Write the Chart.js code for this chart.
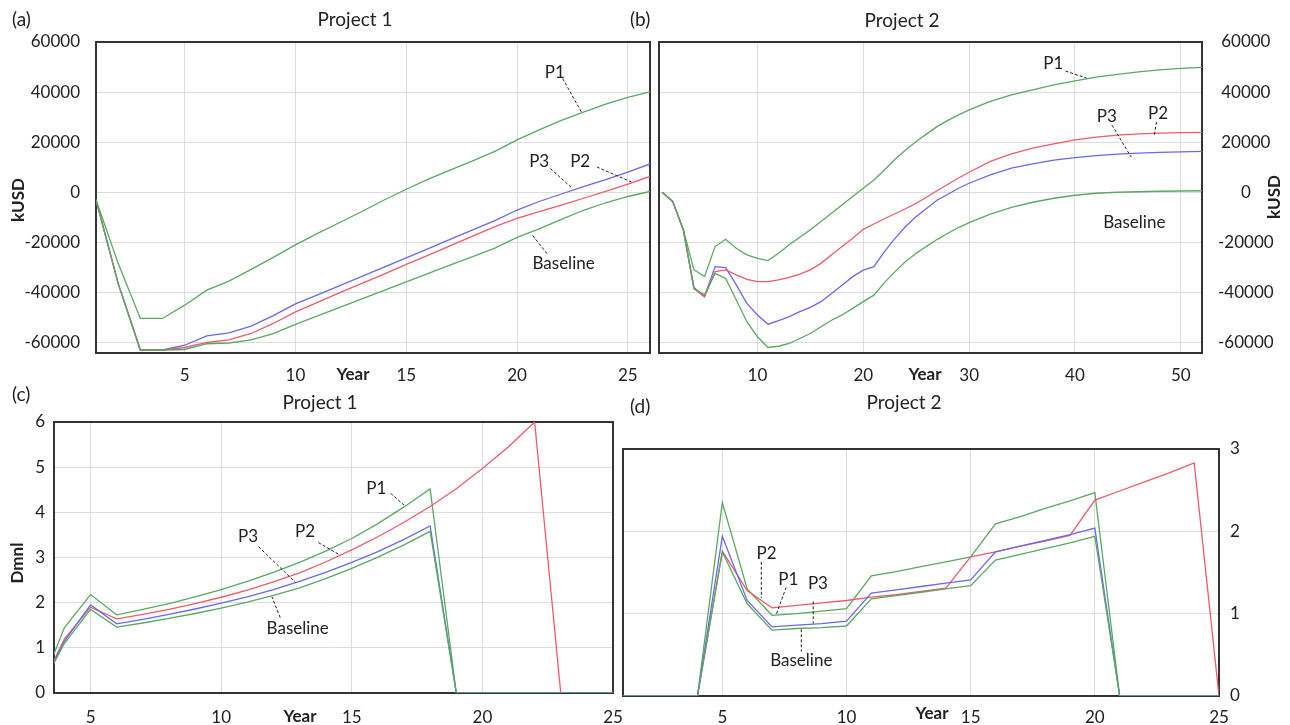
<!DOCTYPE html>
<html>
<head>
<meta charset="utf-8">
<script src="https://cdn.jsdelivr.net/npm/chart.js@4.4.1/dist/chart.umd.min.js"></script>
<style>
  body { margin: 0; background: #ffffff; }
  #quadro { position: relative; width: 1290px; height: 725px; }
  #quadro canvas { position: absolute; left: 0; top: 0; }
</style>
</head>
<body>
<div id="quadro">
  <canvas id="graficoA" width="1290" height="725"></canvas>
  <canvas id="graficoB" width="1290" height="725"></canvas>
  <canvas id="graficoC" width="1290" height="725"></canvas>
  <canvas id="graficoD" width="1290" height="725"></canvas>
</div>
<script>
// 1. DADOS

// (a) Project 1 - kUSD
const anosA = [1, 2, 3, 4, 5, 6, 7, 8, 9, 10, 11, 12, 13, 14, 15, 16, 17, 18, 19, 20, 21, 22, 23, 24, 25, 26];
const p1A = [-3000, -28400, -50400, -50400, -45100, -39100, -35500, -30800, -26000, -21000, -16400, -12100, -7700, -3100, 1200, 5200, 8900, 12500, 16300, 20900, 24900, 28700, 32000, 35200, 37900, 40100];
const p2A = [-3000, -36400, -63000, -63000, -62000, -60000, -59000, -56400, -52400, -47800, -44000, -40100, -36400, -32700, -28800, -25100, -21300, -17500, -13700, -10400, -7700, -5100, -2400, 300, 3200, 6300];
const p3A = [-3000, -36400, -63000, -63000, -61100, -57400, -56200, -53500, -49300, -44600, -41000, -37300, -33600, -29900, -26200, -22500, -18700, -15000, -11300, -7100, -3700, -700, 2200, 5000, 8000, 11300];
const baseA = [-3000, -36400, -63000, -63000, -62800, -60500, -60200, -59000, -56500, -52800, -49400, -46000, -42600, -39200, -35800, -32400, -29000, -25700, -22300, -18000, -14600, -10800, -7200, -4200, -1700, 300];
const ticksXA = [5, 10, 15, 20, 25];
const ticksKusd = [-60000, -40000, -20000, 0, 20000, 40000, 60000];

// (b) Project 2 - kUSD
const anosB = [1, 2, 3, 4, 5, 6, 7, 8, 9, 10, 11, 12, 13, 14, 15, 16, 17, 18, 19, 20, 21, 22, 23, 24, 25, 26, 27, 28, 29, 30, 32, 34, 36, 38, 40, 42, 44, 46, 48, 50, 52];
const p1B = [0, -3700, -15000, -31000, -33700, -21700, -18800, -22400, -25000, -26400, -27300, -24400, -21000, -18000, -15000, -11700, -8400, -5000, -1700, 1600, 4900, 8900, 13200, 16900, 20300, 23300, 26300, 28700, 30900, 32900, 36300, 38900, 40900, 42900, 44500, 46000, 47100, 48100, 48900, 49500, 49900];
const p2B = [0, -3700, -15000, -38500, -41800, -31700, -31000, -33000, -34800, -35700, -35700, -35000, -34000, -32700, -31000, -28400, -25000, -21700, -18400, -14800, -12700, -10600, -8600, -6600, -4400, -1900, 700, 3200, 5700, 8000, 12300, 15300, 17600, 19300, 20900, 22000, 22800, 23300, 23600, 23800, 23900];
const p3B = [0, -3700, -15000, -38000, -41600, -29700, -30100, -37000, -44400, -49000, -52700, -51300, -49700, -47700, -46000, -43700, -40400, -37100, -33700, -31100, -29700, -23700, -18400, -13700, -9700, -6400, -3100, -800, 1600, 3600, 6900, 9600, 11300, 12800, 13800, 14600, 15200, 15600, 15900, 16100, 16300];
const baseB = [0, -3700, -15000, -38500, -41000, -32400, -34400, -43000, -51700, -57700, -62000, -61500, -60400, -58400, -56400, -53700, -51100, -49000, -46400, -43700, -41100, -36100, -31700, -27700, -24400, -21500, -18800, -16400, -14100, -12100, -8700, -6000, -4000, -2400, -1200, -400, 0, 200, 400, 500, 600];
const ticksXB = [10, 20, 30, 40, 50];

// (c) Project 1 - Dmnl
const anosC = [3, 4, 5, 6, 7, 8, 9, 10, 11, 12, 13, 14, 15, 16, 17, 18, 19, 20, 21, 22, 23, 24, 25];
const p1C = [0, 1.45, 2.18, 1.73, 1.85, 1.98, 2.13, 2.29, 2.47, 2.67, 2.89, 3.14, 3.42, 3.75, 4.12, 4.52, 0, 0, 0, 0, 0, 0, 0];
const p2C = [0, 1.2, 1.9, 1.64, 1.74, 1.85, 1.98, 2.12, 2.28, 2.46, 2.66, 2.9, 3.17, 3.46, 3.78, 4.13, 4.52, 4.97, 5.45, 6.0, 0, 0, 0];
const p3C = [0, 1.15, 1.95, 1.53, 1.63, 1.74, 1.86, 1.99, 2.13, 2.29, 2.47, 2.67, 2.89, 3.13, 3.4, 3.7, 0, 0, 0, 0, 0, 0, 0];
const baseC = [0, 1.1, 1.85, 1.46, 1.55, 1.65, 1.76, 1.88, 2.01, 2.16, 2.33, 2.53, 2.76, 3.01, 3.28, 3.58, 0, 0, 0, 0, 0, 0, 0];
const ticksXC = [5, 10, 15, 20, 25];
const ticksYC = [0, 1, 2, 3, 4, 5, 6];

// (d) Project 2 - Dmnl
const anosD = [1, 2, 3, 4, 5, 6, 7, 8, 9, 10, 11, 12, 13, 14, 15, 16, 17, 18, 19, 20, 21, 22, 23, 24, 25];
const p1D = [0, 0, 0, 0, 2.35, 1.3, 0.98, 1.0, 1.03, 1.06, 1.46, 1.51, 1.57, 1.63, 1.69, 2.09, 2.18, 2.28, 2.37, 2.47, 0, 0, 0, 0, 0];
const p2D = [0, 0, 0, 0, 1.76, 1.28, 1.07, 1.1, 1.13, 1.16, 1.2, 1.23, 1.27, 1.31, 1.69, 1.75, 1.82, 1.88, 1.95, 2.38, 2.49, 2.6, 2.71, 2.83, 0];
const p3D = [0, 0, 0, 0, 1.94, 1.16, 0.84, 0.86, 0.88, 0.91, 1.25, 1.29, 1.33, 1.37, 1.41, 1.75, 1.82, 1.89, 1.96, 2.04, 0, 0, 0, 0, 0];
const baseD = [0, 0, 0, 0, 1.75, 1.12, 0.8, 0.82, 0.83, 0.85, 1.18, 1.22, 1.26, 1.3, 1.34, 1.65, 1.72, 1.79, 1.86, 1.94, 0, 0, 0, 0, 0];
const ticksXD = [5, 10, 15, 20, 25];
const ticksYD = [0, 1, 2, 3];

// 2. ESTILO
const verde = '#5aa862';
const vermelho = '#ef5a6a';
const azul = '#6868ee';

Chart.defaults.font.family = 'Lato, "Open Sans", sans-serif';
Chart.defaults.color = '#222222';

// rótulos com linha tracejada (posição em coordenadas dos dados)
const notasA = [
    { texto: 'P1', x: 21.7, y: 48000, de: [22.06, 45400], ate: [22.9, 32100] },
    { texto: 'P3', x: 21.0, y: 12100, de: [21.5, 9500], ate: [22.5, 1500] },
    { texto: 'P2', x: 22.85, y: 12100, de: [23.6, 10100], ate: [25.16, 4100] },
    { texto: 'Baseline', x: 22.1, y: -28300, de: [21.35, -24500], ate: [20.7, -17200] }
];
const notasB = [
    { texto: 'P1', x: 37.95, y: 51400, de: [39.1, 48400], ate: [41.1, 45600] },
    { texto: 'P3', x: 43.0, y: 30100, de: [43.5, 26800], ate: [45.3, 14100] },
    { texto: 'P2', x: 47.85, y: 31400, de: [47.7, 28100], ate: [47.5, 22800] },
    { texto: 'Baseline', x: 45.6, y: -11900 }
];
const notasC = [
    { texto: 'P1', x: 15.94, y: 4.53, de: [16.49, 4.42], ate: [17.04, 4.14] },
    { texto: 'P2', x: 13.21, y: 3.57, de: [13.72, 3.33], ate: [14.53, 3.06] },
    { texto: 'P3', x: 11.03, y: 3.46, de: [11.43, 3.24], ate: [12.84, 2.45] },
    { texto: 'Baseline', x: 12.93, y: 1.43, de: [12.26, 1.67], ate: [11.94, 2.13] }
];
const notasD = [
    { texto: 'P2', x: 6.78, y: 1.73, de: [6.57, 1.63], ate: [6.57, 1.19] },
    { texto: 'P1', x: 7.66, y: 1.42, de: [7.57, 1.32], ate: [7.17, 0.99] },
    { texto: 'P3', x: 8.85, y: 1.37, de: [8.66, 1.15], ate: [8.66, 0.88] },
    { texto: 'Baseline', x: 8.18, y: 0.43, de: [8.18, 0.81], ate: [8.18, 0.54] }
];

// 3. PLUGIN PARA MOLDURA, TÍTULOS E RÓTULOS
function extras(conf) {
    return {
        id: 'extras',
        beforeDatasetsDraw(chart) {
            const { ctx, chartArea: a } = chart;
            ctx.save();
            ctx.strokeStyle = '#333333';
            ctx.lineWidth = 2;
            ctx.strokeRect(a.left, a.top, a.right - a.left, a.bottom - a.top);
            ctx.restore();
        },
        afterDraw(chart) {
            const ctx = chart.ctx;
            const sx = chart.scales.x;
            const sy = chart.scales.y;
            ctx.save();
            ctx.fillStyle = '#222222';
            ctx.textBaseline = 'middle';

            // textos fixos: título, letra do painel, eixos
            conf.textos.forEach(t => {
                ctx.font = t.fonte;
                ctx.textAlign = t.alinhar || 'center';
                ctx.save();
                ctx.translate(t.x, t.y);
                if (t.girar) ctx.rotate(-Math.PI / 2);
                ctx.fillText(t.texto, 0, 0);
                ctx.restore();
            });

            // rótulos das séries
            ctx.font = '17px Lato, "Open Sans", sans-serif';
            ctx.textAlign = 'center';
            conf.notas.forEach(n => {
                ctx.fillText(n.texto, sx.getPixelForValue(n.x), sy.getPixelForValue(n.y));
                if (n.de) {
                    ctx.beginPath();
                    ctx.setLineDash([3, 2]);
                    ctx.strokeStyle = '#222222';
                    ctx.lineWidth = 1;
                    ctx.moveTo(sx.getPixelForValue(n.de[0]), sy.getPixelForValue(n.de[1]));
                    ctx.lineTo(sx.getPixelForValue(n.ate[0]), sy.getPixelForValue(n.ate[1]));
                    ctx.stroke();
                    ctx.setLineDash([]);
                }
            });
            ctx.restore();
        }
    };
}

// 4. CONSTRUÇÃO DE CADA PAINEL
function criarGrafico(idCanvas, conf) {
    const canvas = document.getElementById(idCanvas).getContext('2d');
    return new Chart(canvas, {
        type: 'line',
        data: {
            datasets: conf.series.map(s => ({
                data: conf.anos.map((a, i) => ({ x: a, y: s.valores[i] })),
                borderColor: s.cor,
                borderWidth: 1.3,
                pointRadius: 0,
                tension: 0,
                fill: false
            }))
        },
        options: {
            responsive: false,
            animation: false,
            devicePixelRatio: 1,
            layout: { padding: conf.margem },
            plugins: {
                legend: { display: false },
                tooltip: { enabled: false }
            },
            scales: {
                x: {
                    type: 'linear',
                    min: conf.xMin,
                    max: conf.xMax,
                    afterBuildTicks: s => { s.ticks = conf.ticksX.map(v => ({ value: v })); },
                    afterFit: s => { s.height = conf.xAltura; },
                    grid: { color: '#dcdcdc', drawTicks: false },
                    border: { display: false },
                    ticks: {
                        padding: conf.xPad,
                        font: { size: 17 },
                        maxRotation: 0,
                        autoSkip: false,
                        callback: v => String(v)
                    }
                },
                y: {
                    type: 'linear',
                    position: conf.yLado,
                    min: conf.yMin,
                    max: conf.yMax,
                    afterBuildTicks: s => { s.ticks = conf.ticksY.map(v => ({ value: v })); },
                    afterFit: s => { s.width = conf.yLargura; },
                    grid: { color: '#dcdcdc', drawTicks: false },
                    border: { display: false },
                    ticks: {
                        padding: conf.yPad,
                        crossAlign: conf.yAlinhar || 'near',
                        font: { size: 17 },
                        autoSkip: false,
                        callback: v => String(v)
                    }
                }
            }
        },
        plugins: [extras(conf)]
    });
}

const fonteTitulo = '19px Lato, "Open Sans", sans-serif';
const fonteEixo = 'bold 17px Lato, "Open Sans", sans-serif';

criarGrafico('graficoA', {
    anos: anosA,
    series: [
        { valores: baseA, cor: verde },
        { valores: p2A, cor: vermelho },
        { valores: p3A, cor: azul },
        { valores: p1A, cor: verde }
    ],
    xMin: 1, xMax: 26, ticksX: ticksXA,
    yMin: -64200, yMax: 60000, ticksY: ticksKusd,
    margem: { left: 0, top: 42, right: 640, bottom: 342 },
    xAltura: 30, xPad: 12,
    yLado: 'left', yLargura: 96, yPad: 16,
    notas: notasA,
    textos: [
        { texto: '(a)', x: 12, y: 20, fonte: fonteTitulo, alinhar: 'left' },
        { texto: 'Project 1', x: 355, y: 20, fonte: fonteTitulo },
        { texto: 'kUSD', x: 19, y: 200, fonte: fonteEixo, girar: true },
        { texto: 'Year', x: 353, y: 375, fonte: fonteEixo }
    ]
});

criarGrafico('graficoB', {
    anos: anosB,
    series: [
        { valores: baseB, cor: verde },
        { valores: p2B, cor: vermelho },
        { valores: p3B, cor: azul },
        { valores: p1B, cor: verde }
    ],
    xMin: 0.7, xMax: 52, ticksX: ticksXB,
    yMin: -64200, yMax: 60000, ticksY: ticksKusd,
    margem: { left: 659, top: 42, right: 0, bottom: 342 },
    xAltura: 30, xPad: 12,
    yLado: 'right', yLargura: 88, yPad: 16, yAlinhar: 'center',
    notas: notasB,
    textos: [
        { texto: '(b)', x: 630, y: 20, fonte: fonteTitulo, alinhar: 'left' },
        { texto: 'Project 2', x: 902, y: 21, fonte: fonteTitulo },
        { texto: 'kUSD', x: 1275, y: 197, fonte: fonteEixo, girar: true },
        { texto: 'Year', x: 925, y: 375, fonte: fonteEixo }
    ]
});

criarGrafico('graficoC', {
    anos: anosC,
    series: [
        { valores: baseC, cor: verde },
        { valores: p3C, cor: azul },
        { valores: p2C, cor: vermelho },
        { valores: p1C, cor: verde }
    ],
    xMin: 3.6, xMax: 25, ticksX: ticksXC,
    yMin: 0, yMax: 6, ticksY: ticksYC,
    margem: { left: 0, top: 422, right: 677, bottom: 2 },
    xAltura: 30, xPad: 14,
    yLado: 'left', yLargura: 54, yPad: 9,
    notas: notasC,
    textos: [
        { texto: '(c)', x: 12, y: 395, fonte: fonteTitulo, alinhar: 'left' },
        { texto: 'Project 1', x: 320, y: 403, fonte: fonteTitulo },
        { texto: 'Dmnl', x: 18, y: 563, fonte: fonteEixo, girar: true },
        { texto: 'Year', x: 300, y: 717, fonte: fonteEixo }
    ]
});

criarGrafico('graficoD', {
    anos: anosD,
    series: [
        { valores: baseD, cor: verde },
        { valores: p3D, cor: azul },
        { valores: p2D, cor: vermelho },
        { valores: p1D, cor: verde }
    ],
    xMin: 1, xMax: 25, ticksX: ticksXD,
    yMin: 0, yMax: 3, ticksY: ticksYD,
    margem: { left: 623, top: 449, right: 0, bottom: 0 },
    xAltura: 29, xPad: 11,
    yLado: 'right', yLargura: 71, yPad: 11,
    notas: notasD,
    textos: [
        { texto: '(d)', x: 630, y: 407, fonte: fonteTitulo, alinhar: 'left' },
        { texto: 'Project 2', x: 904, y: 403, fonte: fonteTitulo },
        { texto: 'Year', x: 932, y: 714, fonte: fonteEixo }
    ]
});
</script>
</body>
</html>
